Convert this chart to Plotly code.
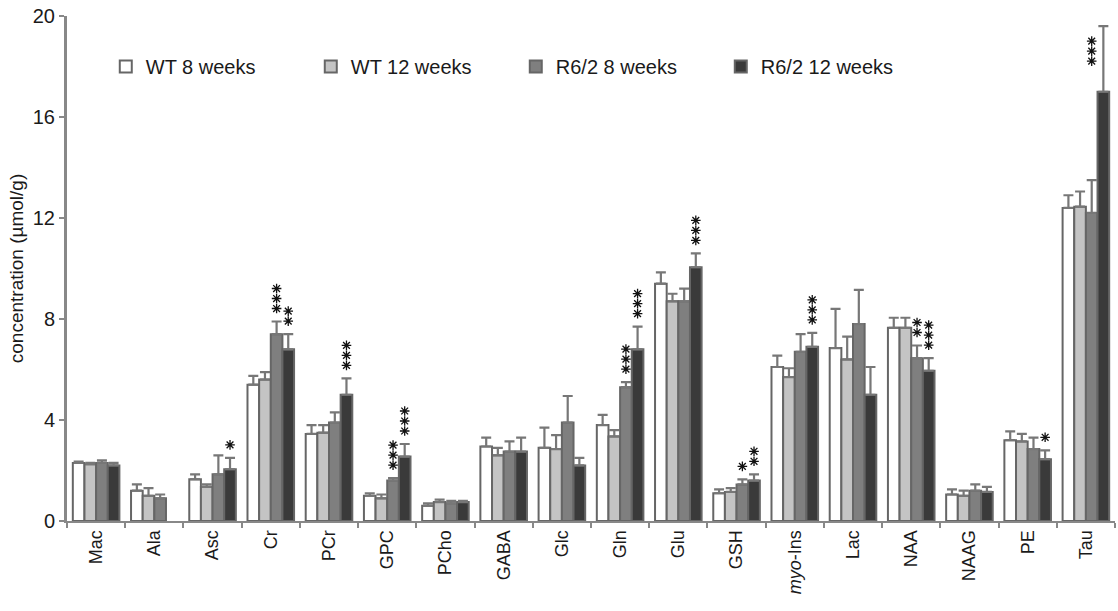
import plotly.graph_objects as go

metabolites = ["Mac", "Ala", "Asc", "Cr", "PCr", "GPC", "PCho", "GABA", "Glc", "Gln",
               "Glu", "GSH", "<i>myo</i>-Ins", "Lac", "NAA", "NAAG", "PE", "Tau"]

series_names = ["WT 8 weeks", "WT 12 weeks", "R6/2 8 weeks", "R6/2 12 weeks"]

wt8 = [2.3, 1.2, 1.65, 5.4, 3.45, 1.0, 0.6, 2.95, 2.9, 3.8, 9.4, 1.1, 6.1, 6.85, 7.65, 1.05, 3.2, 12.4]
wt12 = [2.25, 1.0, 1.35, 5.6, 3.5, 0.9, 0.75, 2.6, 2.85, 3.35, 8.7, 1.15, 5.7, 6.4, 7.65, 1.0, 3.15, 12.45]
r8 = [2.3, 0.9, 1.85, 7.4, 3.9, 1.6, 0.7, 2.75, 3.9, 5.3, 8.7, 1.45, 6.7, 7.8, 6.45, 1.2, 2.85, 12.2]
r12 = [2.2, None, 2.05, 6.8, 5.0, 2.55, 0.75, 2.75, 2.2, 6.8, 10.05, 1.6, 6.9, 5.0, 5.95, 1.15, 2.45, 17.0]

wt8_err = [0.05, 0.25, 0.2, 0.35, 0.35, 0.1, 0.1, 0.35, 0.8, 0.4, 0.45, 0.15, 0.45, 1.55, 0.4, 0.2, 0.35, 0.5]
wt12_err = [0.05, 0.3, 0.1, 0.3, 0.3, 0.15, 0.1, 0.3, 0.55, 0.25, 0.3, 0.15, 0.35, 0.9, 0.4, 0.2, 0.3, 0.6]
r8_err = [0.1, 0.15, 0.75, 0.5, 0.4, 0.1, 0.1, 0.4, 1.05, 0.2, 0.5, 0.2, 0.7, 1.35, 0.5, 0.25, 0.45, 1.3]
r12_err = [0.1, 0.0, 0.45, 0.6, 0.65, 0.5, 0.05, 0.55, 0.3, 0.9, 0.55, 0.25, 0.55, 1.1, 0.5, 0.2, 0.35, 2.6]

# number of significance stars per bar
wt8_sig = [0] * 18
wt12_sig = [0] * 18
r8_sig = [0, 0, 0, 3, 0, 3, 0, 0, 0, 3, 0, 1, 0, 0, 2, 0, 0, 0]
r12_sig = [0, 0, 1, 2, 3, 3, 0, 0, 0, 3, 3, 2, 3, 0, 3, 0, 1, 3]

fills = ["#ffffff", "#c4c4c4", "#7f7f7f", "#3a3a3a"]
values = [wt8, wt12, r8, r12]
errors = [wt8_err, wt12_err, r8_err, r12_err]
sigs = [wt8_sig, wt12_sig, r8_sig, r12_sig]

W, H = 1118, 611
ML, MR, MT, MB = 67, 3, 16, 90
BARGAP = 0.2
Y_MAX = 20
plot_h = H - MT - MB
px_per_unit = plot_h / Y_MAX

fig = go.Figure()
for i, (name, vals, errs, col) in enumerate(zip(series_names, values, errors, fills)):
    fig.add_trace(go.Bar(
        name=name, x=metabolites, y=vals, offsetgroup=str(i),
        marker=dict(color=col, line=dict(color="#666666", width=2)),
        error_y=dict(type="data", symmetric=False, array=errs,
                     arrayminus=[0] * len(errs), color="#777777",
                     thickness=2.2, width=5),
    ))

# significance stars: stacked above each error bar; when there is no room
# above the axis top, they hang beside the error bar in the neighbouring slot
star_x = [[] for _ in values]
star_y = [[] for _ in values]
for i, (vals, errs, sg) in enumerate(zip(values, errors, sigs)):
    for ci, n in enumerate(sg):
        if n and vals[ci] is not None:
            top = vals[ci] + errs[ci]
            above = [top + (13 + 10 * k) / px_per_unit for k in range(n)]
            if above[-1] <= Y_MAX:
                star_x[i] += [metabolites[ci]] * n
                star_y[i] += above
            else:
                slot = max(i - 1, 0)
                star_x[slot] += [metabolites[ci]] * n
                star_y[slot] += [top - (15 + 10 * k) / px_per_unit for k in range(n)]

for i in range(len(values)):
    fig.add_trace(go.Scatter(
        x=star_x[i], y=star_y[i], mode="markers", offsetgroup=str(i), showlegend=False,
        hoverinfo="skip", cliponaxis=False,
        marker=dict(symbol="asterisk-open", size=8, color="#111111",
                    line=dict(color="#111111", width=1.3)),
    ))

fig.update_layout(
    width=W, height=H,
    margin=dict(l=ML, r=MR, t=MT, b=MB),
    paper_bgcolor="white", plot_bgcolor="white",
    barmode="group", bargap=BARGAP, bargroupgap=0,
    scattermode="group", scattergap=BARGAP,
    font=dict(family="Liberation Sans, Arial, sans-serif", color="#1a1a1a"),
    showlegend=True,
    legend=dict(orientation="h", x=0.037, y=0.9, xanchor="left", yanchor="middle",
                font=dict(size=20), entrywidth=160, entrywidthmode="pixels",
                bgcolor="rgba(0,0,0,0)", itemwidth=30),
)
fig.update_yaxes(
    range=[0, Y_MAX], tickvals=[0, 4, 8, 12, 16, 20], showgrid=False, zeroline=False,
    showline=True, linecolor="#888888", linewidth=3,
    ticks="outside", ticklen=5, tickcolor="#888888", tickwidth=2,
    tickfont=dict(size=20),
    title=dict(text="concentration (µmol/g)", font=dict(size=19), standoff=5),
)
fig.update_xaxes(
    showline=True, linecolor="#888888", linewidth=2,
    ticks="outside", tickson="boundaries", ticklen=5, tickcolor="#888888", tickwidth=2,
    tickangle=-90, tickfont=dict(size=18), showgrid=False,
)

fig.write_html("out.html", config={"displayModeBar": False},
               post_script="document.body.style.margin='0px';")
